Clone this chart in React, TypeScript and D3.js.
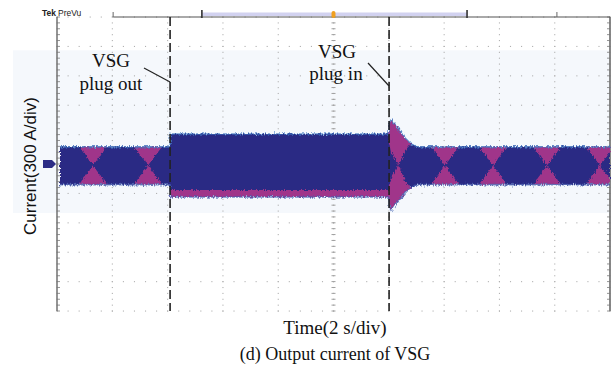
import { useEffect } from 'react'
import * as d3 from 'd3'

// time axis: 2 s/div, 10 div ; current axis: 300 A/div, 10 div
const timeDomain: [number, number] = [0, 20]
const currentDomain: [number, number] = [-1500, 1500]
const timeDivs = d3.range(0, 20.001, 2)
const currentDivs = d3.range(-1500, 1501, 300)

const plugOutT = 4.09
const plugInT = 12.01

// envelopes of the two traces (A)
const sigT = [0.11, 0.54, 0.8, 1.3, 1.81, 2.78, 3.29, 3.8, 4.09, 4.1, 12.0, 12.02, 12.08, 12.22, 12.33, 12.41, 12.59, 12.77, 12.84, 13.06, 13.53, 14.03, 14.54, 15.26, 15.77, 16.27, 17.22, 17.72, 18.23, 19.13, 19.64, 20.0]
const outerHi = [175, 175, 175, 175, 175, 175, 175, 175, 175, 306, 306, 420, 449, 408, 370, 337, 265, 214, 200, 175, 175, 175, 175, 175, 175, 175, 175, 175, 175, 175, 175, 175]
const outerLo = [-210, -210, -210, -210, -210, -210, -210, -210, -210, -337, -337, -440, -469, -418, -385, -357, -296, -245, -232, -210, -210, -210, -210, -210, -210, -210, -210, -210, -210, -210, -210, -210]
const innerHi = [175, 175, 175, -15, 175, 175, -15, 175, 175, 306, 306, 200, 120, 60, -15, 20, 130, 200, 200, 175, 175, -15, 175, 175, -15, 175, 175, -15, 175, 175, -15, 120]
const innerLo = [-210, -210, -210, -15, -210, -210, -15, -210, -210, -265, -265, -200, -140, -80, -15, -50, -170, -235, -232, -210, -210, -15, -210, -210, -15, -210, -210, -15, -210, -210, -15, -150]

// record ruler marks on top (s)
const rulerStart = 2.03
const rulerTicks = [2.03, 18.08]
const viewWindow: [number, number] = [5.24, 14.83]
const triggerT = 10

const bandRange: [number, number] = [-500, 1160]

export default function App() {
  useEffect(() => {
    document.body.style.margin = '0'
  }, [])

  const x = d3.scaleLinear().domain(timeDomain).range([57, 610])
  const y = d3.scaleLinear().domain(currentDomain).range([311, 17])

  const pts = sigT.map((t, i) => ({ t, oh: outerHi[i], ol: outerLo[i], ih: innerHi[i], il: innerLo[i] }))
  type P = (typeof pts)[number]
  const outerArea = d3.area<P>().x((d) => x(d.t)).y0((d) => y(d.ol)).y1((d) => y(d.oh))
  const innerArea = d3.area<P>().x((d) => x(d.t)).y0((d) => y(d.il)).y1((d) => y(d.ih))
  const hiLine = d3.line<P>().x((d) => x(d.t)).y((d) => y(d.oh))
  const loLine = d3.line<P>().x((d) => x(d.t)).y((d) => y(d.ol))

  const minorT = d3.range(0, 20.001, 0.4)
  const minorI = d3.range(-1500, 1501, 60)
  const midT = 10
  const midI = 0

  const serif = 'Liberation Serif, Times New Roman, serif'
  const sans = 'Liberation Sans, Arial, sans-serif'

  return (
    <svg width={613} height={376} style={{ position: 'absolute', left: 0, top: 0, background: '#fff' }}>
      <defs>
        <filter id="fuzz" filterUnits="userSpaceOnUse" x="40" y="80" width="590" height="170">
          <feTurbulence type="fractalNoise" baseFrequency="0.9 0.4" numOctaves="2" seed="4" result="n" />
          <feDisplacementMap in="SourceGraphic" in2="n" scale="5" xChannelSelector="R" yChannelSelector="G" />
        </filter>
      </defs>

      {/* pale background band */}
      <rect x={13} y={y(bandRange[1])} width={x(20) - 13} height={y(bandRange[0]) - y(bandRange[1])} fill="#f5f8fc" />

      {/* dotted graticule */}
      <g fill="#b0b0b0">
        {currentDivs.map((v) =>
          minorT.map((t) => <rect key={`h${v}-${t}`} x={x(t) - 0.5} y={y(v) - 0.5} width={1.1} height={1.1} />)
        )}
        {timeDivs.map((t) =>
          minorI.map((v) => <rect key={`v${t}-${v}`} x={x(t) - 0.5} y={y(v) - 0.5} width={1.1} height={1.1} />)
        )}
      </g>
      <g stroke="#a0a0a0" strokeWidth={1}>
        {minorT.map((t) => (
          <line key={`ct${t}`} x1={x(t)} x2={x(t)} y1={y(midI) - 2} y2={y(midI) + 2} />
        ))}
        {minorI.map((v) => (
          <line key={`cv${v}`} x1={x(midT) - 2} x2={x(midT) + 2} y1={y(v)} y2={y(v)} />
        ))}
      </g>

      {/* frame edges */}
      <g stroke="#7a7a7a">
        <line x1={x(0)} x2={x(0)} y1={y(1500)} y2={y(-1500)} strokeWidth={1.6} />
        <line x1={x(20)} x2={x(20)} y1={y(1500)} y2={y(-1500)} strokeWidth={1.8} />
        {minorI.map((v) => (
          <g key={`e${v}`}>
            <line x1={x(0)} x2={x(0) + 3} y1={y(v)} y2={y(v)} strokeWidth={0.8} />
            <line x1={x(20) - 3} x2={x(20)} y1={y(v)} y2={y(v)} strokeWidth={0.8} />
          </g>
        ))}
      </g>

      {/* ruler on top */}
      <rect x={x(viewWindow[0])} y={12.5} width={x(viewWindow[1]) - x(viewWindow[0])} height={3.5} fill="#d2d2f0" />
      <line x1={x(rulerStart)} x2={x(20)} y1={17} y2={17} stroke="#555" strokeWidth={1.2} />
      {viewWindow.map((t) => (
        <line key={`w${t}`} x1={x(t)} x2={x(t)} y1={10} y2={18} stroke="#333" strokeWidth={1.6} />
      ))}
      {rulerTicks.map((t) => (
        <line key={`r${t}`} x1={x(t)} x2={x(t)} y1={12} y2={17} stroke="#666" strokeWidth={1} />
      ))}
      <rect x={x(triggerT) - 2} y={11} width={4} height={7} rx={2} fill="#f0a020" />
      <text x={42} y={16} fontFamily={sans} fontSize={8.5} fill="#222">
        <tspan fontWeight="bold">Tek</tspan>
        <tspan dx={2}>PreVu</tspan>
      </text>

      {/* channel marker */}
      <path d={`M${x(0) - 14},${y(0) - 4} h9 l4,4 l-4,4 h-9 z`} fill="#2c2c86" />

      {/* traces */}
      <g filter="url(#fuzz)">
        <path d={outerArea(pts) ?? ''} fill="#a0368a" />
        <path d={innerArea(pts) ?? ''} fill="#2b2a84" />
        <path d={hiLine(pts) ?? ''} fill="none" stroke="#3d78c0" strokeWidth={1.6} opacity={0.75} />
        <path d={loLine(pts) ?? ''} fill="none" stroke="#3d5fb0" strokeWidth={1.6} opacity={0.7} />
      </g>

      {/* event markers */}
      {[plugOutT, plugInT].map((t) => (
        <line key={`d${t}`} x1={x(t)} x2={x(t)} y1={y(1500)} y2={y(-1500)} stroke="#222" strokeWidth={1.6} strokeDasharray="9 4" />
      ))}
      <line x1={144} y1={68} x2={x(plugOutT)} y2={82} stroke="#222" strokeWidth={1.2} />
      <line x1={368} y1={63} x2={x(plugInT)} y2={86} stroke="#222" strokeWidth={1.2} />

      <g fontFamily={serif} fontSize={19} fill="#111" textAnchor="middle">
        <text x={111} y={67}>VSG</text>
        <text x={111} y={90}>plug out</text>
        <text x={337} y={58}>VSG</text>
        <text x={336} y={80}>plug in</text>
      </g>

      <text transform="translate(36,166) rotate(-90)" fontFamily={sans} fontSize={17} textAnchor="middle" fill="#111">
        Current(300 A/div)
      </text>
      <text x={335} y={334} fontFamily={serif} fontSize={19} textAnchor="middle" fill="#111">
        Time(2 s/div)
      </text>
      <text x={335} y={360} fontFamily={serif} fontSize={18} textAnchor="middle" fill="#111">
        (d) Output current of VSG
      </text>
    </svg>
  )
}
